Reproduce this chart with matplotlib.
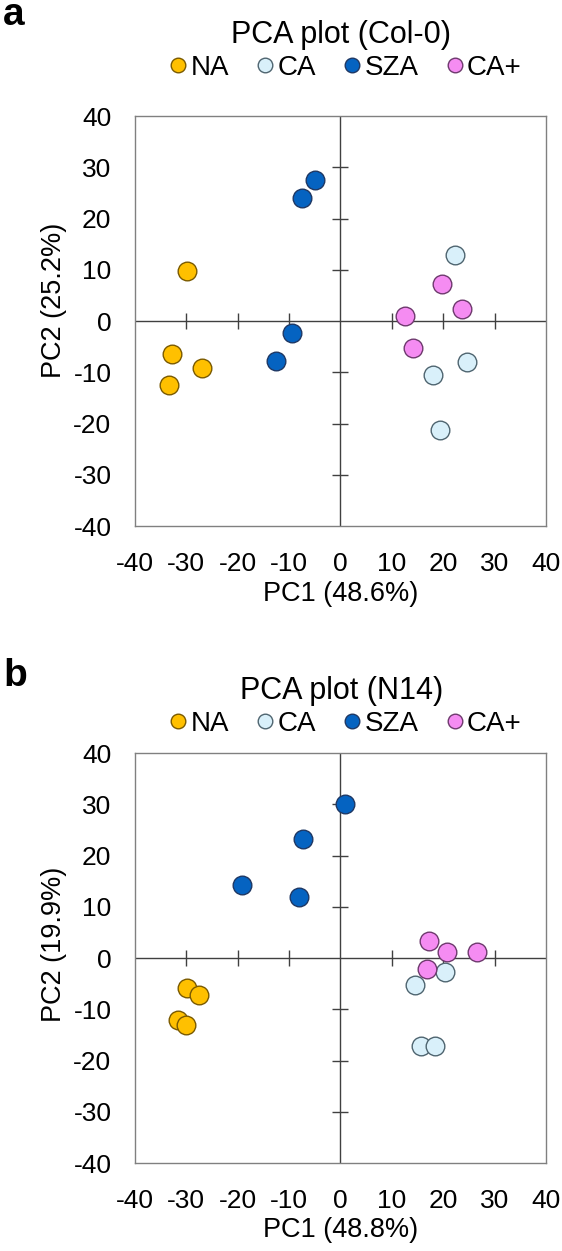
import matplotlib
matplotlib.use("Agg")
import matplotlib.pyplot as plt
from matplotlib.lines import Line2D

plt.rcParams["font.family"] = ["Liberation Sans", "DejaVu Sans"]
plt.rcParams["axes.unicode_minus"] = False

GROUPS = ["NA", "CA", "SZA", "CA+"]
FILL = {"NA": "#FFC000", "CA": "#D9F0FA", "SZA": "#0563C1", "CA+": "#F58CF2"}
EDGE = {"NA": "#7A5A00", "CA": "#4F6570", "SZA": "#1F3864", "CA+": "#6E3A6E"}

TICKS = [-40, -30, -20, -10, 0, 10, 20, 30, 40]

# Panel a: Col-0
a_na_x = [-29.9, -32.8, -26.9, -33.3]
a_na_y = [9.7, -6.4, -9.2, -12.5]
a_ca_x = [22.3, 24.7, 18.1, 19.3]
a_ca_y = [12.9, -7.9, -10.6, -21.3]
a_sza_x = [-5.0, -7.4, -9.4, -12.5]
a_sza_y = [27.6, 24.1, -2.3, -7.7]
a_cap_x = [19.7, 23.6, 12.6, 14.1]
a_cap_y = [7.2, 2.3, 0.9, -5.3]

# Panel b: N14
b_na_x = [-29.9, -27.6, -31.6, -30.1]
b_na_y = [-5.8, -7.3, -12.0, -13.1]
b_ca_x = [20.3, 14.5, 15.6, 18.4]
b_ca_y = [-2.7, -5.3, -17.1, -17.1]
b_sza_x = [0.9, -7.2, -19.2, -8.0]
b_sza_y = [30.1, 23.2, 14.2, 12.0]
b_cap_x = [17.3, 20.7, 26.6, 16.9]
b_cap_y = [3.4, 1.2, 1.2, -2.2]

panels = [
    {
        "letter": "a", "title": "PCA plot (Col-0)",
        "xlabel": "PC1 (48.6%)", "ylabel": "PC2 (25.2%)",
        "data": {"NA": (a_na_x, a_na_y), "CA": (a_ca_x, a_ca_y),
                 "SZA": (a_sza_x, a_sza_y), "CA+": (a_cap_x, a_cap_y)},
        "rect": [0.2402, 0.5795, 0.7313, 0.3277],
        "letter_y": 0.980, "title_y": 0.972, "legend_y": 0.9456,
        "ylabel_y": 0.551, "xlabel_y": -0.165,
    },
    {
        "letter": "b", "title": "PCA plot (N14)",
        "xlabel": "PC1 (48.8%)", "ylabel": "PC2 (19.9%)",
        "data": {"NA": (b_na_x, b_na_y), "CA": (b_ca_x, b_ca_y),
                 "SZA": (b_sza_x, b_sza_y), "CA+": (b_cap_x, b_cap_y)},
        "rect": [0.2402, 0.0703, 0.7313, 0.3277],
        "letter_y": 0.4516, "title_y": 0.4476, "legend_y": 0.4213,
        "ylabel_y": 0.534, "xlabel_y": -0.163,
    },
]

fig = plt.figure(figsize=(5.62, 12.51), dpi=100)

for p in panels:
    ax = fig.add_axes(p["rect"])
    ax.set_xlim(TICKS[0], TICKS[-1])
    ax.set_ylim(TICKS[0], TICKS[-1])
    ax.set_xticks(TICKS)
    ax.set_yticks(TICKS)
    ax.tick_params(length=0, labelsize=19)
    ax.tick_params(axis="x", pad=19)
    ax.tick_params(axis="y", pad=17)
    for s in ax.spines.values():
        s.set_color("#808080")
        s.set_linewidth(1.0)

    # zero lines with crossing ticks
    ax.axhline(0, color="#404040", lw=1.0, zorder=1)
    ax.axvline(0, color="#404040", lw=1.0, zorder=1)
    inner = [t for t in TICKS[1:-1] if t != 0]
    ax.plot(inner, [0] * len(inner), ls="none", marker="|", ms=11.5,
            mew=1.0, color="#404040", zorder=1)
    ax.plot([0] * len(inner), inner, ls="none", marker="_", ms=11.5,
            mew=1.0, color="#404040", zorder=1)

    for g in GROUPS:
        xs, ys = p["data"][g]
        ax.scatter(xs, ys, s=180, color=FILL[g], edgecolors=EDGE[g],
                   linewidths=1.0, zorder=3)

    ax.set_xlabel(p["xlabel"], fontsize=19.5)
    ax.xaxis.label.set_va("center")
    ax.xaxis.set_label_coords(0.5, p["xlabel_y"])
    ax.set_ylabel(p["ylabel"], fontsize=19.5)
    ax.yaxis.label.set_va("center")
    ax.yaxis.set_label_coords(-0.197, p["ylabel_y"])

    fig.text(0.006, p["letter_y"], p["letter"], fontsize=28, fontweight="bold",
             ha="left", va="baseline")
    fig.text(0.607, p["title_y"], p["title"], fontsize=22, ha="center", va="center")

    handles = [Line2D([], [], ls="none", marker="o", ms=10.5, markerfacecolor=FILL[g],
                      markeredgecolor=EDGE[g], markeredgewidth=1.0) for g in GROUPS]
    fig.legend(handles, GROUPS, loc="center", bbox_to_anchor=(0.615, p["legend_y"]),
               ncol=4, frameon=False, fontsize=20, handlelength=0.6,
               handletextpad=0.15, columnspacing=1.0, borderpad=0)

fig.savefig("out.png", dpi=100)
